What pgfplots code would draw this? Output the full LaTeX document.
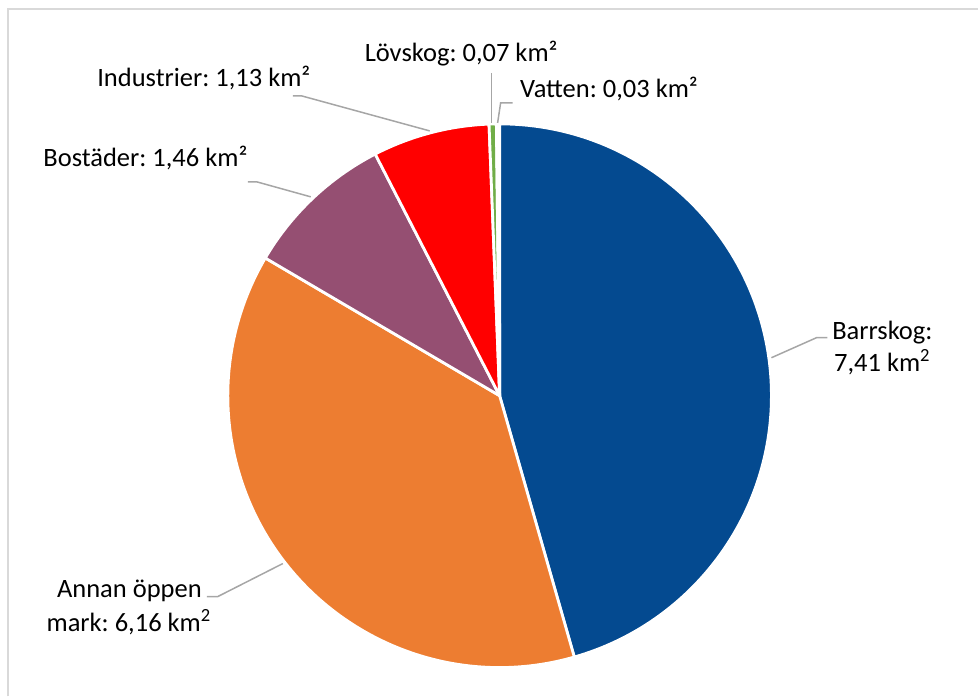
\documentclass[border=0pt]{standalone}
\usepackage{pgfplots}
\pgfplotsset{compat=1.18}
\usepackage{pgfplotstable}
\usepackage{fontspec}
\setmainfont{Carlito}
\frenchspacing

\definecolor{pie0}{HTML}{044A90}
\definecolor{pie1}{HTML}{ED7D31}
\definecolor{pie2}{HTML}{954F72}
\definecolor{pie3}{HTML}{FF0000}
\definecolor{pie4}{HTML}{70AD47}
\definecolor{pie5}{HTML}{DEEBF7}
\definecolor{txt}{HTML}{404040}
\definecolor{lead}{HTML}{A6A6A6}
\definecolor{frame}{HTML}{D9D9D9}

% areas in km2, clockwise from 12 o'clock
\pgfplotstableread{
name value
Barrskog 7.41
Annan 6.16
Bostader 1.46
Industrier 1.13
Lovskog 0.07
Vatten 0.03
}\piedata

\begin{document}
\begin{tikzpicture}[font=\fontsize{13.25pt}{16pt}\selectfont]
% slice angles from the table
\def\total{0}
\pgfplotsforeachungrouped \i in {0,...,5}{%
  \pgfplotstablegetelem{\i}{value}\of\piedata
  \pgfmathsetmacro\total{\total+\pgfplotsretval}%
}
\def\start{90}
\pgfplotsforeachungrouped \i in {0,...,5}{%
  \pgfplotstablegetelem{\i}{value}\of\piedata
  \pgfmathsetmacro\stop{\start-\pgfplotsretval/\total*360}%
  \expandafter\xdef\csname sa\i\endcsname{\start}%
  \expandafter\xdef\csname ea\i\endcsname{\stop}%
  \global\let\start\stop
}
\begin{axis}[
    x=0.5pt, y=0.5pt,
    xmin=0, xmax=979, ymin=0, ymax=697,
    hide axis, clip=false,
    every node/.style={text=txt, inner sep=0pt},
]
\path (axis cs:0,0) rectangle (axis cs:979,697);
% chart frame
\draw[frame, line width=0.75pt] (axis cs:8,0) -- (axis cs:8,688) -- (axis cs:979,688);

% slices
\pgfplotsinvokeforeach{0,...,5}{
  \filldraw[fill=pie#1, draw=white, line width=1.4pt, line join=round]
    (axis cs:500,301) -- ([shift={(\csname sa#1\endcsname:136pt)}]axis cs:500,301)
    arc[start angle=\csname sa#1\endcsname, end angle=\csname ea#1\endcsname, radius=136pt] -- cycle;
}

% leader lines
\begin{scope}[lead, line width=0.75pt]
\draw (axis cs:293,601) -- (axis cs:302,601) -- (axis cs:430,566);
\draw (axis cs:492,624) -- (axis cs:492,574);
\draw (axis cs:513,594) -- (axis cs:501,594) -- (axis cs:498,574);
\draw (axis cs:248,515) -- (axis cs:257,515) -- (axis cs:311,500);
\draw (axis cs:828,359) -- (axis cs:817,359) -- (axis cs:772,339);
\draw (axis cs:207,100) -- (axis cs:218,100) -- (axis cs:283,133);
\end{scope}

% labels
\node[anchor=base] at (axis cs:204,610) {Industrier: 1,13 km²};
\node[anchor=base] at (axis cs:461.5,635) {Lövskog: 0,07 km²};
\node[anchor=base] at (axis cs:609.5,599) {Vatten: 0,03 km²};
\node[anchor=base] at (axis cs:145.5,530) {Bostäder: 1,46 km²};
\node[anchor=base] at (axis cs:883,357) {Barrskog:};
\node[anchor=base] at (axis cs:883,325) {7,41 km\textsuperscript{2}};
\node[anchor=base] at (axis cs:129.5,99) {Annan öppen};
\node[anchor=base] at (axis cs:129,65) {mark: 6,16 km\textsuperscript{2}};
\end{axis}
\end{tikzpicture}
\end{document}
